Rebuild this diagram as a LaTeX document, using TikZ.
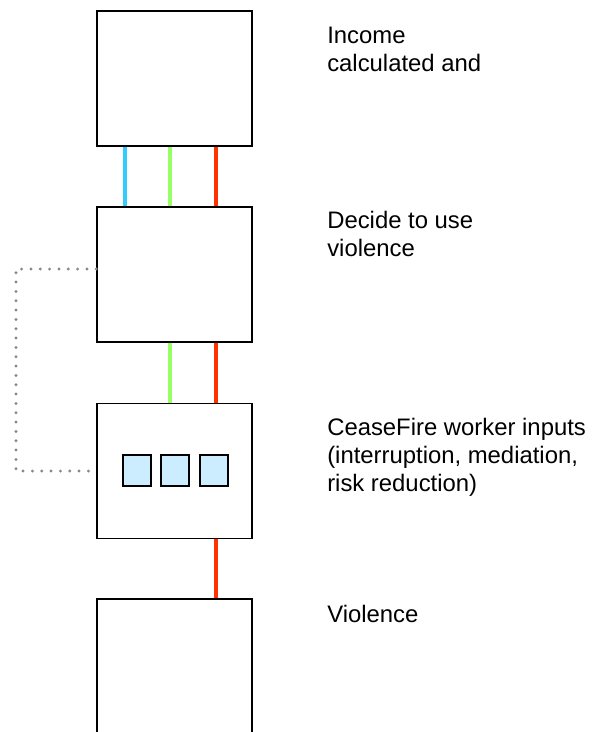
\documentclass[tikz,border=0pt]{standalone}
\usepackage{fontspec}
\setmainfont{Liberation Sans}
\usetikzlibrary{positioning}
\definecolor{wireblue}{HTML}{33CCFF}
\definecolor{wiregreen}{HTML}{99FF66}
\definecolor{wirered}{HTML}{FF3300}
\definecolor{inputfill}{HTML}{CCECFF}
\definecolor{loopgray}{HTML}{888888}
\begin{document}
\begin{tikzpicture}[x=0.75pt,y=-0.75pt,
    stage/.style={draw=black,line width=1.1pt,fill=white,inner sep=0pt,
        minimum width=116.25pt,minimum height=101.25pt},
    workerbox/.style={draw=black,line width=1.3pt,fill=inputfill,inner sep=0pt,
        minimum width=21pt,minimum height=23.25pt},
    wire/.style={line width=3.4pt},
    loopline/.style={loopgray,line width=2.4pt,line cap=round,dash pattern=on 0pt off 7pt},
    caption/.style={anchor=base west,align=left,inner sep=0pt,
        font=\fontsize{17.9}{21}\selectfont},
    node distance=6.5pt]
    \useasboundingbox (0,0) rectangle (598,732);
    % stages
    \node[stage] (income) at (174.5,78.5) {};
    \node[stage] (decide) at (174.5,274.5) {};
    \node[stage] (worker) at (174.5,471) {};
    \node[stage] (violence) at (174.5,666.5) {};%
    % worker inputs
    \node[workerbox] (mid) at (175.3,470.7) {};
    \node[workerbox,left=of mid] (interrupt) {};
    \node[workerbox,right=of mid] (reduce) {};%
    % wire positions
    \coordinate (xb) at (125,0);
    \coordinate (xg) at (170,0);
    \coordinate (xr) at (216,0);
    \coordinate (loop) at (16,269);%
    \draw[wire,wireblue] (income.south -| xb) -- (decide.north -| xb);
    \draw[wire,wiregreen] (income.south -| xg) -- (decide.north -| xg);
    \draw[wire,wirered] (income.south -| xr) -- (decide.north -| xr);
    \draw[wire,wiregreen] (decide.south -| xg) -- (worker.north -| xg);
    \draw[wire,wirered] (decide.south -| xr) -- (worker.north -| xr);
    \draw[wire,wirered] (worker.south -| xr) -- (violence.north -| xr);%
    \draw[loopline] (decide.west |- loop) -- (loop) |- (worker.west);%
    % captions (base = last line)
    \node[caption] (t1) at (327,71) {Income\\calculated and};
    \node[caption] (t2) at (327,256) {Decide to use\\violence};
    \node[caption] (t3) at (327,491) {CeaseFire worker inputs\\(interruption, mediation,\\risk reduction)};
    \node[caption] (t4) at (327,622) {Violence};%
\end{tikzpicture}
\end{document}
